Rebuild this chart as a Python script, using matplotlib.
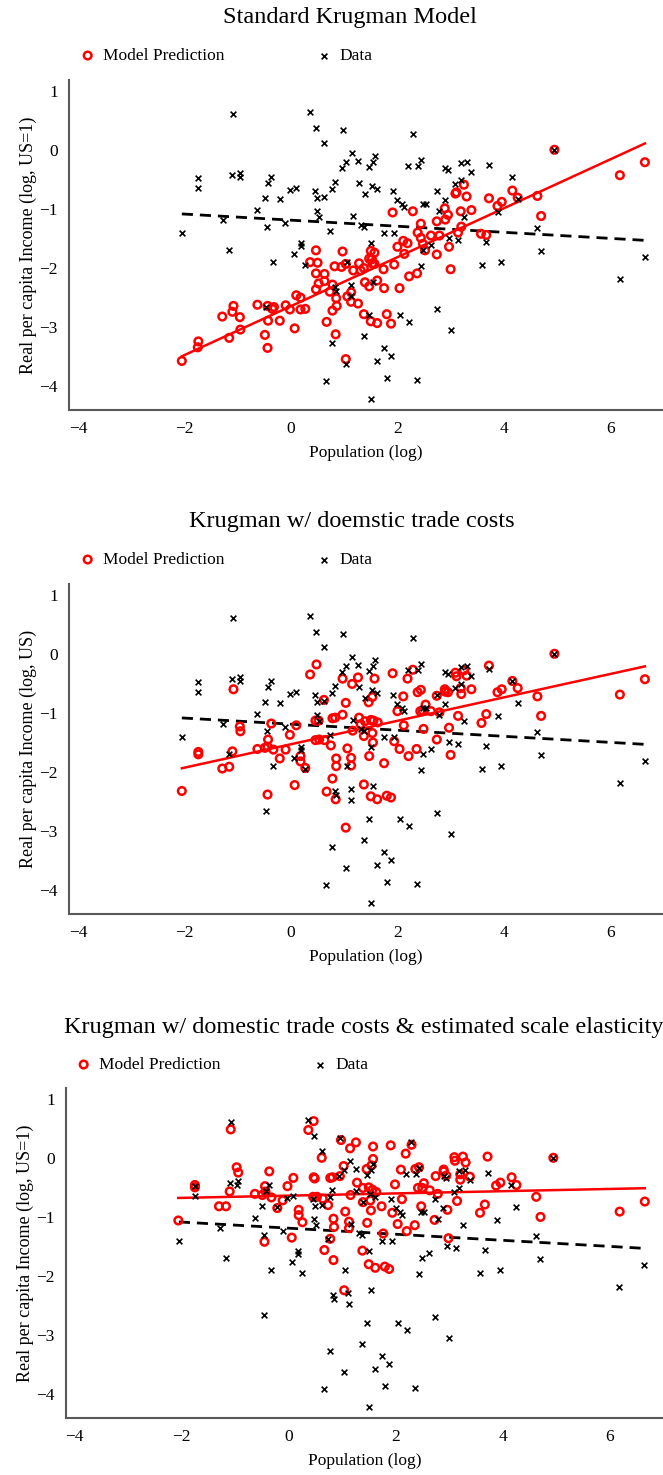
import numpy as np
import matplotlib.pyplot as plt

plt.rcParams['font.family'] = ['Liberation Serif', 'DejaVu Serif']

# observed data: (log population, log real income per capita), same in all panels
data_pts = np.array([
    (-1.08, 0.60), (0.36, 0.64), (0.47, 0.36), (0.62, 0.12), (-1.74, -0.47), (-1.75, -0.64),
    (-1.10, -0.43), (-0.95, -0.40), (-0.96, -0.46), (-0.37, -0.46), (-0.43, -0.56), (-0.49, -0.81),
    (-0.21, -0.83), (-0.02, -0.68), (0.09, -0.65), (0.46, -0.69), (0.49, -0.81), (0.62, -0.80),
    (0.78, -0.67), (0.82, -0.55), (-0.63, -1.02), (0.48, -1.04), (0.52, -1.13), (-1.28, -1.19),
    (-0.45, -1.31), (-0.11, -1.23), (0.73, -1.37), (-2.05, -1.41), (-1.17, -1.69), (0.18, -1.58),
    (0.18, -1.62), (0.06, -1.76), (-0.33, -1.90), (0.26, -1.94), (0.83, -2.32), (0.85, -2.38),
    (-0.46, -2.65), (0.77, -3.27), (0.66, -3.91),
    (0.97, 0.33), (2.29, 0.26), (1.15, -0.05), (1.57, -0.10), (1.26, -0.19), (1.03, -0.21),
    (1.54, -0.21), (1.47, -0.29), (0.95, -0.31), (2.19, -0.27), (2.38, -0.27), (2.44, -0.18),
    (2.90, -0.31), (2.95, -0.34), (3.19, -0.23), (3.30, -0.21), (3.39, -0.38), (3.72, -0.25),
    (4.16, -0.46), (1.27, -0.56), (1.52, -0.61), (1.61, -0.66), (1.40, -0.74), (1.91, -0.69),
    (2.74, -0.69), (3.09, -0.58), (3.19, -0.51), (2.00, -0.85), (2.09, -0.91), (2.12, -0.96),
    (2.48, -0.91), (2.53, -0.91), (2.89, -0.85), (2.79, -1.04), (3.26, -1.14), (3.89, -1.06),
    (4.26, -0.84), (1.16, -1.12), (1.31, -1.28), (1.37, -1.30), (1.74, -1.40), (1.94, -1.41),
    (2.97, -1.50), (3.13, -1.52), (3.67, -1.56), (4.63, -1.32), (1.50, -1.58), (2.63, -1.61),
    (2.49, -1.70), (4.70, -1.71), (1.06, -1.90), (2.44, -1.96), (3.58, -1.94), (3.95, -1.90),
    (6.65, -1.82), (1.12, -2.28), (1.54, -2.23), (1.13, -2.47), (6.18, -2.19), (2.74, -2.70),
    (1.47, -2.79), (2.04, -2.79), (2.21, -2.92), (3.00, -3.04), (1.37, -3.15), (1.75, -3.35),
    (1.88, -3.48), (1.62, -3.57), (1.03, -3.62), (1.80, -3.86), (2.36, -3.89), (1.50, -4.21),
    (4.95, 0.00),
])

# model predictions, standard Krugman model
std_pts = np.array([
    (-2.05, -3.57), (-1.74, -3.24), (-1.75, -3.34), (-1.29, -2.82), (-1.10, -2.74), (-1.08, -2.64),
    (-0.96, -2.83), (-1.16, -3.18), (-0.95, -3.04), (-0.63, -2.62), (-0.44, -2.64), (-0.35, -2.69),
    (-0.32, -2.66), (-0.43, -2.89), (-0.49, -3.13), (-0.44, -3.35), (-0.21, -2.89), (-0.10, -2.63),
    (-0.02, -2.70), (0.07, -3.02), (0.10, -2.46), (0.18, -2.50), (0.18, -2.70), (0.27, -2.69),
    (0.47, -1.70), (0.36, -1.90), (0.50, -1.91), (0.47, -2.09), (0.63, -2.10), (0.52, -2.26),
    (0.63, -2.22), (0.47, -2.36), (0.73, -2.40), (0.78, -2.28), (0.85, -2.51), (0.86, -2.64),
    (0.78, -2.72), (0.67, -2.91), (0.84, -3.12), (0.82, -1.97),
    (0.97, -1.72), (1.03, -1.93), (0.95, -1.98), (1.17, -2.04), (1.28, -1.92), (1.31, -2.04),
    (1.37, -2.00), (1.47, -1.84), (1.50, -1.71), (1.57, -1.74), (1.52, -1.85), (1.53, -1.92),
    (1.57, -1.93), (1.74, -2.02), (1.94, -1.94), (2.00, -1.64), (2.11, -1.54), (2.19, -1.58),
    (2.13, -1.76), (1.91, -1.06), (2.29, -1.04), (2.44, -1.25), (2.38, -1.40), (2.44, -1.49),
    (2.48, -1.59), (2.52, -1.70), (2.63, -1.45), (2.79, -1.45), (2.74, -1.21), (2.74, -1.77),
    (2.89, -0.99), (2.90, -1.18), (2.95, -1.10), (2.97, -1.64), (3.09, -0.74), (3.11, -0.72),
    (3.25, -0.59), (3.30, -0.79), (3.19, -1.04), (3.39, -1.02), (3.20, -1.30), (3.14, -1.40),
    (3.00, -2.02), (3.72, -0.82), (3.88, -0.95), (3.96, -0.88), (4.16, -0.69), (4.26, -0.81),
    (4.63, -0.78), (4.70, -1.12), (3.57, -1.42), (3.67, -1.44), (6.65, -0.21), (6.18, -0.43),
    (4.95, 0.00), (1.03, -3.54), (1.39, -2.24), (1.47, -2.31), (1.62, -2.21), (1.75, -2.34),
    (2.04, -2.34), (2.22, -2.14), (2.37, -2.09), (1.13, -2.41), (1.06, -2.48), (1.13, -2.57),
    (1.26, -2.60), (1.37, -2.78), (1.50, -2.90), (1.62, -2.93), (1.80, -2.78), (1.88, -2.94),
])

# model predictions, Krugman with domestic trade costs
dom_pts = np.array([
    (-2.05, -2.32), (-1.74, -1.66), (-1.74, -1.70), (-1.29, -1.94), (-1.16, -1.91), (-1.10, -1.65),
    (-1.08, -0.60), (-0.96, -1.23), (-0.95, -1.31), (-0.63, -1.61), (-0.49, -1.59), (-0.44, -1.57),
    (-0.43, -1.45), (-0.44, -2.38), (-0.37, -1.18), (-0.33, -1.62), (-0.21, -1.77), (-0.10, -1.62),
    (-0.02, -1.37), (0.10, -1.21), (0.07, -2.22), (0.18, -1.73), (0.18, -1.82), (0.27, -1.93),
    (0.36, -0.35), (0.48, -0.18), (0.46, -1.46), (0.46, -1.13), (0.52, -1.13), (0.53, -1.45),
    (0.63, -1.46), (0.62, -0.78), (0.78, -1.09), (0.83, -1.08), (0.75, -1.55), (0.85, -1.77),
    (0.85, -1.90), (0.78, -2.11), (0.67, -2.33), (0.84, -2.46),
    (0.97, -0.42), (1.15, -0.51), (1.26, -0.40), (1.03, -0.83), (0.97, -1.03), (1.16, -1.30),
    (1.06, -1.60), (1.13, -1.76), (1.13, -1.89), (1.03, -2.94), (1.28, -1.08), (1.31, -1.19),
    (1.39, -1.14), (1.50, -1.12), (1.55, -1.13), (1.63, -1.16), (1.53, -1.34), (1.37, -1.39),
    (1.54, -1.50), (1.47, -1.73), (1.46, -0.82), (1.53, -0.73), (1.57, -0.42), (1.91, -0.33),
    (2.19, -0.42), (2.29, -0.27), (2.11, -0.72), (2.00, -0.97), (2.12, -1.21), (1.94, -1.48),
    (2.04, -1.61), (2.21, -1.73), (2.36, -1.61), (1.75, -1.85), (2.38, -0.65), (2.44, -0.61),
    (2.43, -0.97), (2.48, -0.97), (2.53, -0.86), (2.63, -0.97), (2.79, -0.99), (2.49, -1.27),
    (2.74, -0.71), (2.89, -0.60), (2.90, -0.64), (2.95, -0.65), (2.74, -1.45), (2.97, -1.25),
    (3.00, -1.71), (3.09, -0.32), (3.11, -0.38), (3.25, -0.28), (3.30, -0.37), (3.19, -0.58),
    (3.20, -0.68), (3.39, -0.60), (3.14, -1.05), (3.58, -1.17), (3.67, -1.02), (3.72, -0.20),
    (3.88, -0.65), (3.96, -0.60), (4.16, -0.46), (4.26, -0.58), (4.63, -0.72), (4.70, -1.05),
    (4.95, 0.00), (6.18, -0.69), (6.65, -0.43), (1.37, -2.21), (1.50, -2.41), (1.62, -2.46),
    (1.80, -2.40), (1.88, -2.43),
])

# model predictions, domestic trade costs + estimated scale elasticity
est_pts = np.array([
    (-2.06, -1.06), (-1.75, -0.46), (-1.75, -0.50), (-1.30, -0.82), (-1.17, -0.82), (-1.10, -0.57),
    (-1.08, 0.48), (-0.97, -0.16), (-0.94, -0.25), (-0.63, -0.61), (-0.49, -0.63), (-0.44, -0.48),
    (-0.43, -0.57), (-0.45, -1.42), (-0.36, -0.23), (-0.32, -0.67), (-0.21, -0.85), (-0.11, -0.72),
    (-0.02, -0.48), (0.09, -0.34), (0.06, -1.35), (0.19, -0.88), (0.19, -0.97), (0.26, -1.09),
    (0.37, 0.47), (0.47, 0.62), (0.47, -0.33), (0.49, -0.35), (0.46, -0.66), (0.53, -0.66),
    (0.64, -0.69), (0.62, 0.00), (0.74, -0.80), (0.78, -0.34), (0.82, -0.33), (0.67, -1.56),
    (0.84, -1.03), (0.85, -1.17), (0.78, -1.37), (0.84, -1.73),
    (0.98, 0.30), (1.26, 0.26), (1.15, 0.16), (1.58, 0.19), (1.91, 0.21), (2.19, 0.07),
    (2.30, 0.22), (1.58, -0.02), (1.55, -0.13), (1.03, -0.14), (1.46, -0.19), (0.96, -0.31),
    (1.28, -0.42), (1.39, -0.51), (1.50, -0.50), (1.57, -0.54), (1.64, -0.58), (1.53, -0.72),
    (1.39, -0.75), (1.16, -0.63), (1.54, -0.89), (1.74, -0.82), (1.06, -0.91), (1.13, -1.08),
    (1.13, -1.19), (1.47, -1.10), (1.77, -1.28), (1.38, -1.57), (1.50, -1.80), (1.62, -1.86),
    (1.80, -1.84), (1.88, -1.88), (1.04, -2.24), (1.99, -0.45), (2.10, -0.20), (2.37, -0.19),
    (2.44, -0.16), (2.53, -0.43), (2.42, -0.51), (2.50, -0.51), (2.64, -0.55), (2.79, -0.61),
    (2.12, -0.70), (2.48, -0.82), (1.94, -0.93), (2.04, -1.12), (2.36, -1.14), (2.21, -1.24),
    (2.75, -0.31), (2.90, -0.20), (2.90, -0.23), (2.95, -0.30), (3.10, 0.01), (3.11, -0.05),
    (3.26, 0.02), (3.31, -0.08), (3.21, -0.28), (3.21, -0.37), (3.39, -0.32), (3.15, -0.73),
    (2.97, -0.88), (2.73, -1.05), (2.99, -1.36), (3.67, -0.79), (3.58, -0.93), (3.72, 0.02),
    (3.88, -0.47), (3.96, -0.42), (4.17, -0.33), (4.26, -0.46), (4.63, -0.66), (4.71, -1.00),
    (4.95, 0.00), (6.19, -0.91), (6.66, -0.74),
])

titles = ["Standard Krugman Model",
          "Krugman w/ doemstic trade costs",
          "Krugman w/ domestic trade costs & estimated scale elasticity"]
ylabels = ["Real per capita Income (log, US=1)",
           "Real per capita Income (log, US)",
           "Real per capita Income (log, US=1)"]
models = [std_pts, dom_pts, est_pts]

W, H = 663, 1475
fig = plt.figure(figsize=(W / 100, H / 100), dpi=100)

# pixel boxes: left, top, right, bottom ; and x range
boxes = [(69, 80, 663, 410), (69, 584, 663, 914), (66, 1088, 663, 1418)]
xlims = [(-4.17, 6.99), (-4.17, 6.99), (-4.16, 7.0)]
title_x = [350, 352, 364]
leg_x = [79, 79, 75]

for i in range(3):
    l, t, r, b = boxes[i]
    ax = fig.add_axes([l / W, 1 - b / H, (r - l) / W, (b - t) / H])
    ax.set_xlim(*xlims[i])
    ax.set_ylim(-4.40, 1.18)

    m = models[i]
    hm = ax.scatter(m[:, 0], m[:, 1], s=30, facecolors='none', edgecolors='red',
                    linewidths=1.8, zorder=3, label='Model Prediction')
    hd = ax.scatter(data_pts[:, 0], data_pts[:, 1], s=17, marker='x', color='black',
                    linewidths=1.2, zorder=4, label='Data')

    # linear fits
    xx = np.array([data_pts[:, 0].min(), data_pts[:, 0].max()])
    cd = np.polyfit(data_pts[:, 0], data_pts[:, 1], 1)
    ax.plot(xx, np.polyval(cd, xx), color='black', lw=2, ls=(0, (4, 2.5)), zorder=2)
    xm = np.array([m[:, 0].min(), m[:, 0].max()])
    cm = np.polyfit(m[:, 0], m[:, 1], 1)
    ax.plot(xm, np.polyval(cm, xm), color='red', lw=1.8, zorder=2)

    ax.spines['top'].set_visible(False)
    ax.spines['right'].set_visible(False)
    for s in ['left', 'bottom']:
        ax.spines[s].set_color('0.35')
        ax.spines[s].set_linewidth(1.5)
    ax.set_xticks([-4, -2, 0, 2, 4, 6])
    ax.set_yticks([-4, -3, -2, -1, 0, 1])
    ax.set_xticklabels(['\u22124', '\u22122', '0', '2', '4', '6'])
    ax.set_yticklabels(['\u22124', '\u22123', '\u22122', '\u22121', '0', '1'])
    ax.tick_params(length=0, labelsize=12.5, pad=8)
    ax.set_xlabel("Population (log)", fontsize=12.5, labelpad=6)
    ax.set_ylabel(ylabels[i], fontsize=13, labelpad=2)

    fig.text(title_x[i] / W, 1 - (18 + 504 * i + (2 if i == 2 else 0)) / H, titles[i],
             ha='center', va='center', fontsize=17.5)
    ax.legend(handles=[hm, hd], loc='center left',
              bbox_to_anchor=(leg_x[i] / W, 1 - (56 + 504 * i + (1 if i == 2 else 0)) / H),
              bbox_transform=fig.transFigure, ncol=2, frameon=False, borderpad=0,
              borderaxespad=0, handlelength=1.0, handletextpad=0.4, columnspacing=5.2,
              fontsize=12.5, scatterpoints=1)

fig.savefig("out.png", dpi=100)
